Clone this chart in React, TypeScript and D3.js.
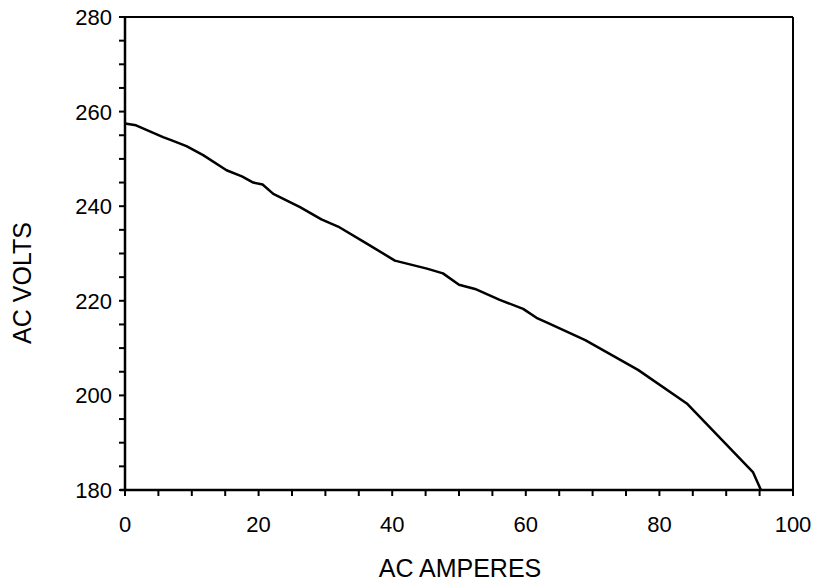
import React from "react";
import * as d3 from "d3";

const amps = [0, 1.65, 5.7, 7.0, 9.2, 11.7, 15.2, 17.5, 19.2, 20.6, 22.2, 26.2, 29.4, 31.9, 36.2, 40.4, 45.2, 47.6, 50.0, 52.4, 56.1, 59.6, 61.6, 63.6, 68.9, 76.8, 84.1, 94.0, 95.2];
const volts = [257.5, 257.1, 254.6, 253.9, 252.7, 250.8, 247.6, 246.3, 245.0, 244.6, 242.6, 239.8, 237.2, 235.7, 232.1, 228.5, 226.8, 225.8, 223.4, 222.5, 220.2, 218.3, 216.4, 215.1, 211.7, 205.4, 198.3, 183.8, 180];
const xTickLabels = [0, 20, 40, 60, 80, 100];
const yTickLabels = [180, 200, 220, 240, 260, 280];
const xMinorTicks = d3.range(0, 101, 5);
const yMinorTicks = d3.range(180, 281, 5);

export default function App() {
  const left = 125, right = 793, top = 17, bottom = 490;
  const x = d3.scaleLinear().domain([0, 100]).range([left, right]);
  const y = d3.scaleLinear().domain([180, 280]).range([bottom, top]);
  const pts: [number, number][] = amps.map((a, i) => [a, volts[i]]);
  const line = d3.line<[number, number]>().x(d => x(d[0])).y(d => y(d[1]));
  const font = "'Liberation Sans', Arial, sans-serif";
  return (
    <svg width={815} height={585} style={{ position: "absolute", left: 0, top: 0, background: "#fff" }}>
      <rect x={0} y={0} width={815} height={585} fill="#fff" />
      <line x1={left} y1={top} x2={right} y2={top} stroke="#000" strokeWidth={2} />
      <line x1={right} y1={top} x2={right} y2={bottom} stroke="#000" strokeWidth={2} />
      <line x1={left} y1={top} x2={left} y2={bottom} stroke="#000" strokeWidth={2.5} />
      <line x1={left - 5} y1={bottom} x2={right} y2={bottom} stroke="#000" strokeWidth={2.5} />
      {yMinorTicks.map(v => (
        <line key={"yt" + v} x1={left - 6} x2={left} y1={y(v)} y2={y(v)} stroke="#000" strokeWidth={2} />
      ))}
      {xMinorTicks.map(v => (
        <line key={"xt" + v} x1={x(v)} x2={x(v)} y1={bottom} y2={bottom + 6} stroke="#000" strokeWidth={2} />
      ))}
      {yTickLabels.map(v => (
        <text key={"yl" + v} x={left - 13} y={y(v)} dy="0.36em" textAnchor="end" fontFamily={font} fontSize={22} fill="#000">{v}</text>
      ))}
      {xTickLabels.map(v => (
        <text key={"xl" + v} x={x(v)} y={532} textAnchor="middle" fontFamily={font} fontSize={22} fill="#000">{v}</text>
      ))}
      <text x={(left + right) / 2 + 1} y={577} textAnchor="middle" fontFamily={font} fontSize={25} fill="#000">AC AMPERES</text>
      <text transform={`translate(31, 283) rotate(-90)`} textAnchor="middle" fontFamily={font} fontSize={25} fill="#000">AC VOLTS</text>
      <path d={line(pts) || ""} fill="none" stroke="#000" strokeWidth={2.5} strokeLinejoin="round" />
    </svg>
  );
}
